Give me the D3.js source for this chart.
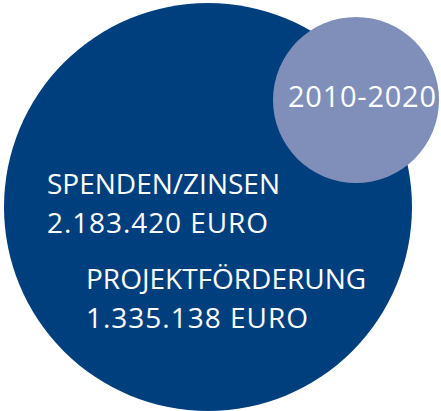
<!DOCTYPE html>
<html>
<head>
<meta charset="utf-8">
<script src="https://cdn.jsdelivr.net/npm/d3@7"></script>
<style>
  html, body { margin: 0; padding: 0; background: #fff; }
</style>
</head>
<body>
<svg id="chart"></svg>
<script>
// data
var period = "2010-2020";
var categories = ["SPENDEN/ZINSEN", "PROJEKTFÖRDERUNG"];
var amounts = [2183420, 1335138];

var width = 441, height = 411;

var svg = d3.select("#chart")
  .attr("width", width)
  .attr("height", height);

var total = d3.sum(amounts);

// radius scale for the total circle
var r = d3.scaleSqrt()
  .domain([0, total])
  .range([0, 204]);

var fmt = d3.formatLocale({ decimal: ",", thousands: ".", grouping: [3], currency: ["", " €"] }).format(",d");

// big circle
svg.append("circle")
  .attr("cx", 208)
  .attr("cy", 207)
  .attr("r", r(total))
  .attr("fill", "#003f7d");

// small period circle
svg.append("circle")
  .attr("cx", 356)
  .attr("cy", 100)
  .attr("r", 83)
  .attr("fill", "#808fba");

svg.append("text")
  .attr("x", 288)
  .attr("y", 107)
  .attr("fill", "#fff")
  .attr("textLength", 148)
  .attr("lengthAdjust", "spacing")
  .style("font-family", "'Open Sans', sans-serif")
  .style("font-size", "29px")
  .text(period);

// labels
var labelPos = [[47, 194], [86, 289]];
var amountWidth = [221, 222];

var g = svg.append("g")
  .selectAll("text")
  .data(categories)
  .enter()
  .append("text")
    .attr("x", function(d, i) { return labelPos[i][0]; })
    .attr("y", function(d, i) { return labelPos[i][1]; })
    .attr("fill", "#fff")
    .style("font-family", "'Open Sans', sans-serif")
    .style("font-size", "28px");

g.append("tspan")
  .text(function(d) { return d; });

g.append("tspan")
  .attr("x", function(d, i) { return labelPos[i][0]; })
  .attr("dy", 39)
  .attr("textLength", function(d, i) { return amountWidth[i]; })
  .attr("lengthAdjust", "spacing")
  .text(function(d, i) { return fmt(amounts[i]) + " EURO"; });
</script>
</body>
</html>
